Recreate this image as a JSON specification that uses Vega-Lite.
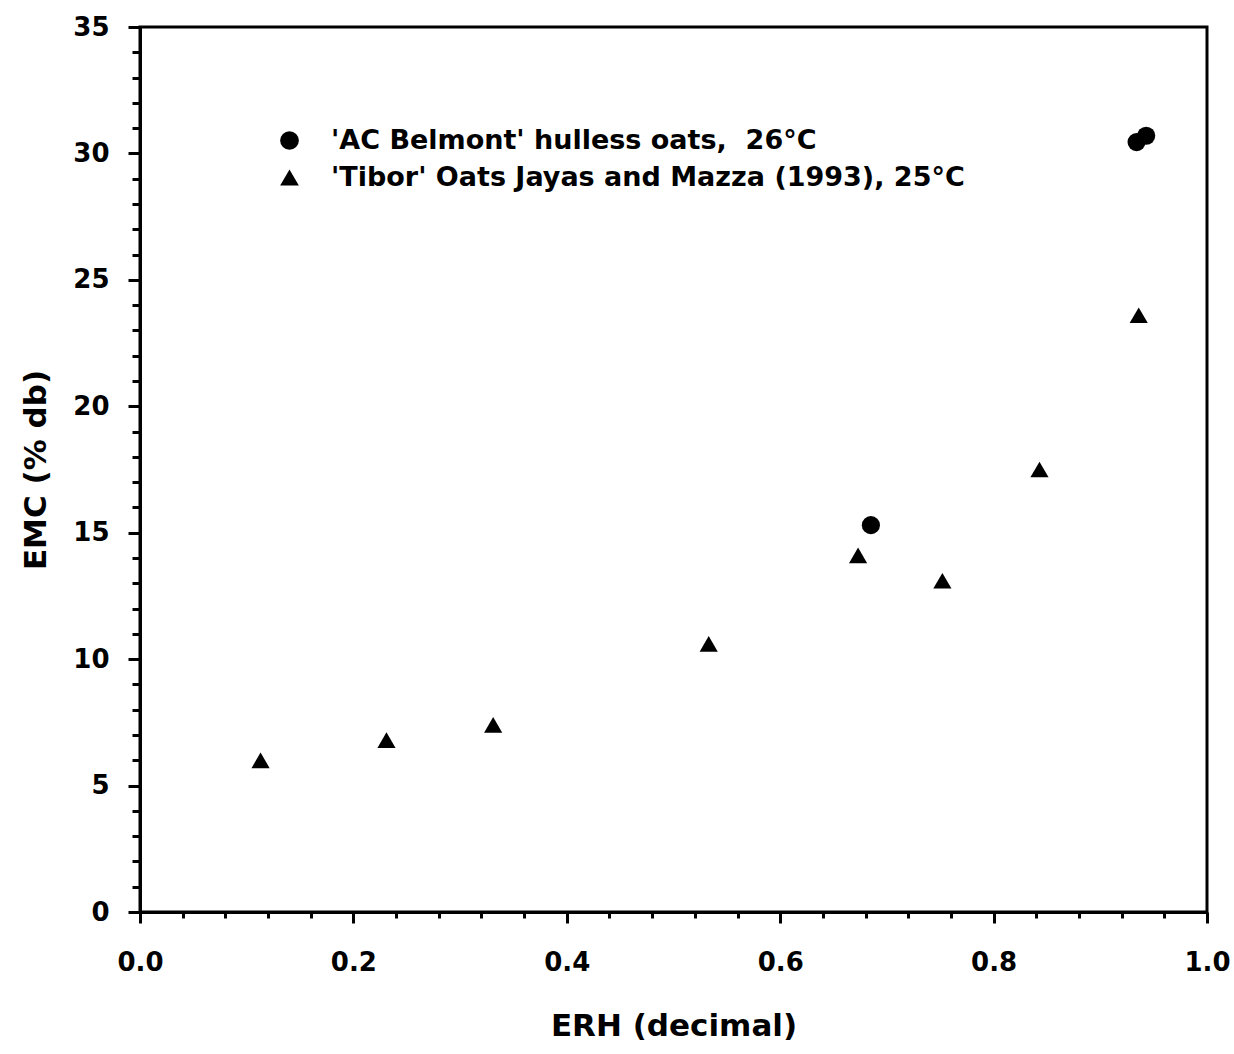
{
  "$schema": "https://vega.github.io/schema/vega-lite/v6.json",
  "autosize": {"type": "none"},
  "width": 1067,
  "height": 885,
  "padding": {"left": 140, "top": 27, "right": 27, "bottom": 142},
  "background": "white",
  "config": {
    "view": {"stroke": "black", "strokeWidth": 3},
    "font": "DejaVu Sans",
    "axis": {"grid": false, "domainColor": "black", "domainWidth": 3, "tickColor": "black", "tickWidth": 3,
      "labelFont": "DejaVu Sans", "labelFontWeight": "bold", "labelFontSize": 26, "labelColor": "black",
      "titleFont": "DejaVu Sans", "titleFontWeight": "bold", "titleFontSize": 31, "titleColor": "black"}
  },
  "data": {"values": [
    {"erh": 0.685, "emc": 15.3, "series": "'AC Belmont' hulless oats,\u00a0 26°C"},
    {"erh": 0.934, "emc": 30.45, "series": "'AC Belmont' hulless oats,\u00a0 26°C"},
    {"erh": 0.943, "emc": 30.7, "series": "'AC Belmont' hulless oats,\u00a0 26°C"},
    {"erh": 0.113, "emc": 6.0, "series": "'Tibor' Oats Jayas and Mazza (1993), 25°C"},
    {"erh": 0.231, "emc": 6.8, "series": "'Tibor' Oats Jayas and Mazza (1993), 25°C"},
    {"erh": 0.331, "emc": 7.4, "series": "'Tibor' Oats Jayas and Mazza (1993), 25°C"},
    {"erh": 0.533, "emc": 10.6, "series": "'Tibor' Oats Jayas and Mazza (1993), 25°C"},
    {"erh": 0.673, "emc": 14.1, "series": "'Tibor' Oats Jayas and Mazza (1993), 25°C"},
    {"erh": 0.752, "emc": 13.1, "series": "'Tibor' Oats Jayas and Mazza (1993), 25°C"},
    {"erh": 0.843, "emc": 17.5, "series": "'Tibor' Oats Jayas and Mazza (1993), 25°C"},
    {"erh": 0.936, "emc": 23.6, "series": "'Tibor' Oats Jayas and Mazza (1993), 25°C"}
  ]},
  "mark": {"type": "point", "filled": true, "opacity": 1},
  "encoding": {
    "x": {"field": "erh", "type": "quantitative", "title": "ERH (decimal)",
      "scale": {"domain": [0, 1], "nice": false},
      "axis": {"values": [0,0.04,0.08,0.12,0.16,0.2,0.24,0.28,0.32,0.36,0.4,0.44,0.48,0.52,0.56,0.6,0.64,0.68,0.72,0.76,0.8,0.84,0.88,0.92,0.96,1.0],
        "labelExpr": "abs(datum.value*5 - round(datum.value*5)) < 0.001 ? format(datum.value, '.1f') : ''",
        "tickSize": {"condition": {"test": "abs(datum.value*5 - round(datum.value*5)) < 0.001", "value": 11}, "value": 6},
        "labelPadding": 26, "titlePadding": 36, "labelFlush": false}},
    "y": {"field": "emc", "type": "quantitative", "title": "EMC (% db)",
      "scale": {"domain": [0, 35], "nice": false},
      "axis": {"values": [0,1,2,3,4,5,6,7,8,9,10,11,12,13,14,15,16,17,18,19,20,21,22,23,24,25,26,27,28,29,30,31,32,33,34,35],
        "labelExpr": "datum.value % 5 === 0 ? datum.label : ''",
        "tickSize": {"condition": {"test": "datum.value % 5 === 0", "value": 12}, "value": 8},
        "labelPadding": 19, "titlePadding": 20, "labelFlush": false}},
    "color": {"field": "series", "type": "nominal",
      "scale": {"domain": ["'AC Belmont' hulless oats,\u00a0 26°C", "'Tibor' Oats Jayas and Mazza (1993), 25°C"], "range": ["black", "black"]},
      "legend": {"orient": "none", "legendX": 136, "legendY": 100, "title": null,
        "labelFont": "DejaVu Sans", "labelFontWeight": "bold", "labelFontSize": 27, "labelColor": "black", "labelLimit": 0,
        "symbolSize": 350, "symbolStrokeWidth": 0, "rowPadding": 9, "labelOffset": 28, "symbolFillColor": "black"}},
    "shape": {"field": "series", "type": "nominal",
      "scale": {"domain": ["'AC Belmont' hulless oats,\u00a0 26°C", "'Tibor' Oats Jayas and Mazza (1993), 25°C"], "range": ["circle", "triangle-up"]}},
    "size": {"value": 330}
  }
}
